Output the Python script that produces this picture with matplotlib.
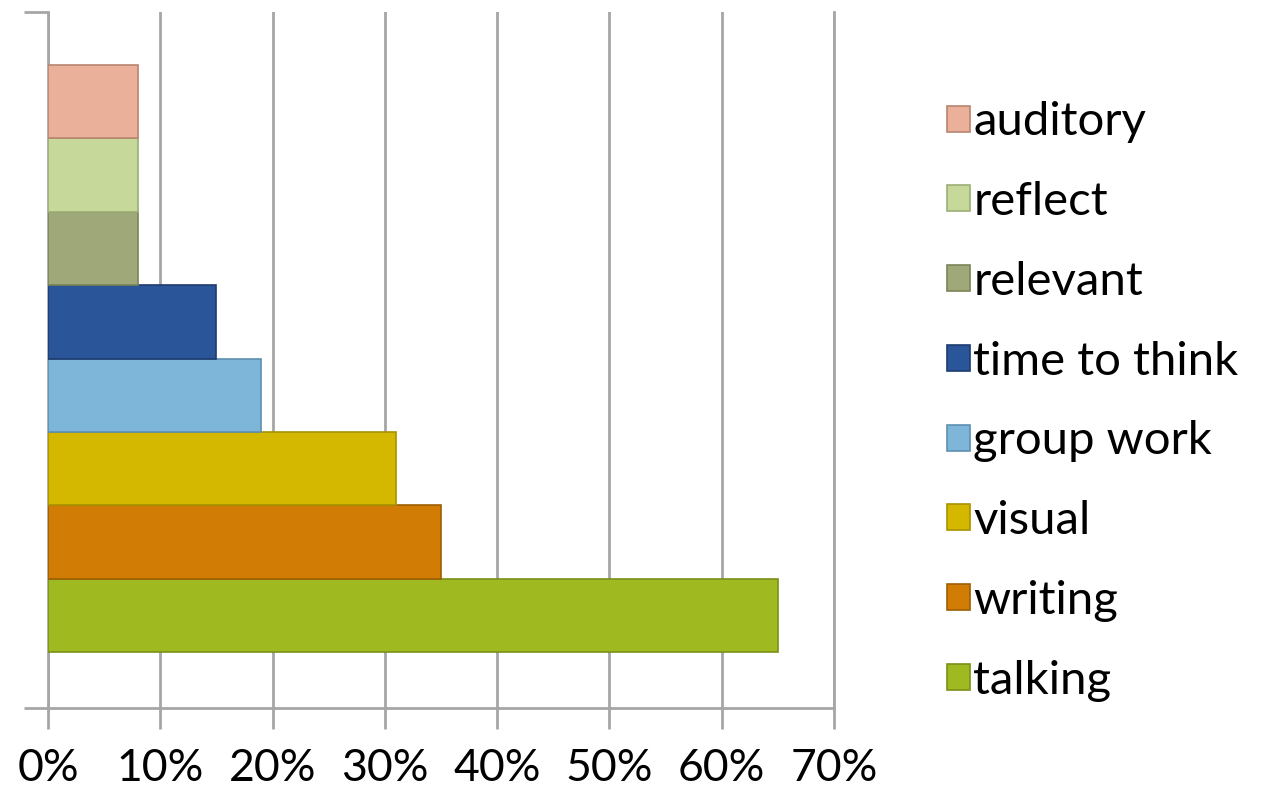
import numpy as np
import matplotlib.pyplot as plt
from matplotlib.patches import Patch

# series from bottom to top
labels = ['talking', 'writing', 'visual', 'group work', 'time to think',
          'relevant', 'reflect', 'auditory']
values = [65, 35, 31, 19, 15, 8, 8, 8]
colors = ['#9FBA20', '#D17C05', '#D4B800', '#7EB6DA', '#2A5599',
          '#9EA878', '#C6D89A', '#EBB09A']
edges = ['#7A9018', '#9E5E04', '#A89200', '#5E8FB0', '#1C3C70',
         '#7A8458', '#9CAE74', '#B88470']
xticks = [0, 10, 20, 30, 40, 50, 60, 70]
xticklabels = ['0%', '10%', '20%', '30%', '40%', '50%', '60%', '70%']

plt.rcParams['font.family'] = ['Lato', 'DejaVu Sans']

fig = plt.figure(figsize=(12.75, 7.92), dpi=100)
ax = fig.add_axes([0.0376, 0.106, 0.6165, 0.879])

bar_h = 0.1054
y0 = 0.0805
for i, (lb, v) in enumerate(zip(labels, values)):
    ax.barh(y0 + bar_h * i, v, height=bar_h, align='edge', color=colors[i],
            edgecolor=edges[i], linewidth=1.2, label=lb, zorder=3)

ax.set_xlim(0, 70)
ax.set_ylim(0, 1)
ax.set_xticks(xticks)
ax.set_xticklabels(xticklabels, fontsize=32)
ax.set_yticks([0, 1])
ax.set_yticklabels([])
ax.grid(axis='x', color='#A6A6A6', linewidth=2, zorder=0)
ax.spines['top'].set_visible(False)
for s in ['left', 'bottom', 'right']:
    ax.spines[s].set_color('#A6A6A6')
    ax.spines[s].set_linewidth(2)
ax.tick_params(axis='x', length=15, width=2, color='#A6A6A6', pad=14)
ax.tick_params(axis='y', length=17, width=2, color='#A6A6A6')

handles = [Patch(facecolor=colors[i], edgecolor=edges[i], linewidth=1.2)
           for i in range(len(labels))][::-1]
fig.legend(handles, labels[::-1], loc='center left',
           bbox_to_anchor=(0.743, 0.493), frameon=False, fontsize=34,
           handlelength=0.47, handleheight=0.47, handletextpad=0.08,
           labelspacing=0.8, borderaxespad=0, borderpad=0)

plt.savefig('out.png', dpi=100)
